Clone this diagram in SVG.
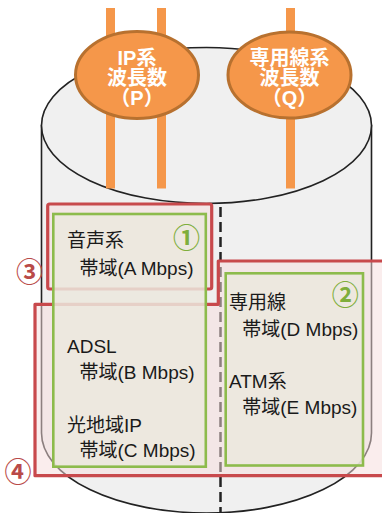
<svg xmlns="http://www.w3.org/2000/svg" width="382" height="513" viewBox="0 0 382 513">
<style>
.cyl{fill:#f0f0f0;stroke:#222;stroke-width:1.6}
.wire{fill:none;stroke:#f5974a;stroke-width:9}
.wl{fill:#f5974a;stroke:#b8712f;stroke-width:3}
.wt{font-family:"Liberation Sans","Noto Sans CJK JP",sans-serif;font-size:20px;font-weight:bold;fill:#fff;text-anchor:middle}
.dash{fill:none;stroke:#222;stroke-width:2.5;stroke-dasharray:10 5}
.reg{fill:#f5dcdc;fill-opacity:0.5;stroke:#c8494c;stroke-width:3.2;stroke-linejoin:round}
.box{fill:#ebe7dd;fill-opacity:0.85;stroke:#8dbb4c;stroke-width:2.6}
.t{font-family:"Liberation Sans","Noto Sans CJK JP",sans-serif;font-size:19px;fill:#1a1a1a}
.ng{font-family:"Noto Sans CJK JP",sans-serif;font-size:27px;font-weight:bold;fill:#7fae3c;text-anchor:middle}
.nr{font-family:"Noto Sans CJK JP",sans-serif;font-size:27px;font-weight:bold;fill:#b94a48;text-anchor:middle}
</style>
<g id="cylinder">
<path class="cyl" d="M41.5,125.5 L41.5,433 A165,80 0 0 0 371.5,433 L371.5,125.5 Z"/>
<ellipse class="cyl" cx="206.5" cy="125.5" rx="165" ry="78"/>
</g>
<g id="connectors">
<line class="wire" x1="110.5" y1="8" x2="110.5" y2="188.5"/>
<line class="wire" x1="161.5" y1="8" x2="161.5" y2="188.5"/>
<line class="wire" x1="290.5" y1="8" x2="290.5" y2="188.5"/>
<line class="dash" x1="220.5" y1="207" x2="220.5" y2="513"/>
</g>
<g id="wl-ip">
<ellipse class="wl" cx="137" cy="75" rx="61.5" ry="43.5"/>
<text class="wt" x="137" y="64.5">IP系</text>
<text class="wt" x="137" y="85">波長数</text>
<text class="wt" x="137" y="105">（P）</text>
</g>
<g id="wl-line">
<ellipse class="wl" cx="289.5" cy="75" rx="61.5" ry="43"/>
<text class="wt" x="289.5" y="64.5">専用線系</text>
<text class="wt" x="289.5" y="85">波長数</text>
<text class="wt" x="289.5" y="105">（Q）</text>
</g>
<g id="region3">
<rect class="reg" x="47.7" y="204" width="164" height="85" rx="2"/>
<text class="nr" x="29.5" y="281.5">③</text>
</g>
<g id="region4">
<path class="reg" d="M35,304.3 L218.3,304.3 L218.3,261 L392,261 L392,475.7 L35,475.7 Z"/>
<text class="nr" x="18" y="482">④</text>
</g>
<g id="box1">
<rect class="box" x="53.3" y="214" width="152.5" height="252.7"/>
<text class="ng" x="186.5" y="247.5">①</text>
<text class="t" x="67" y="246.5">音声系</text>
<text class="t" x="79.5" y="275">帯域(A Mbps)</text>
<text class="t" x="67" y="353">ADSL</text>
<text class="t" x="79.5" y="379">帯域(B Mbps)</text>
<text class="t" x="67" y="431.5">光地域IP</text>
<text class="t" x="79.5" y="457">帯域(C Mbps)</text>
</g>
<g id="box2">
<rect class="box" x="225.7" y="273.3" width="137.3" height="192.2"/>
<text class="ng" x="345.3" y="305">②</text>
<text class="t" x="229" y="309">専用線</text>
<text class="t" x="242.3" y="335.5">帯域(D Mbps)</text>
<text class="t" x="229" y="388">ATM系</text>
<text class="t" x="242.3" y="413.5">帯域(E Mbps)</text>
</g>
</svg>
